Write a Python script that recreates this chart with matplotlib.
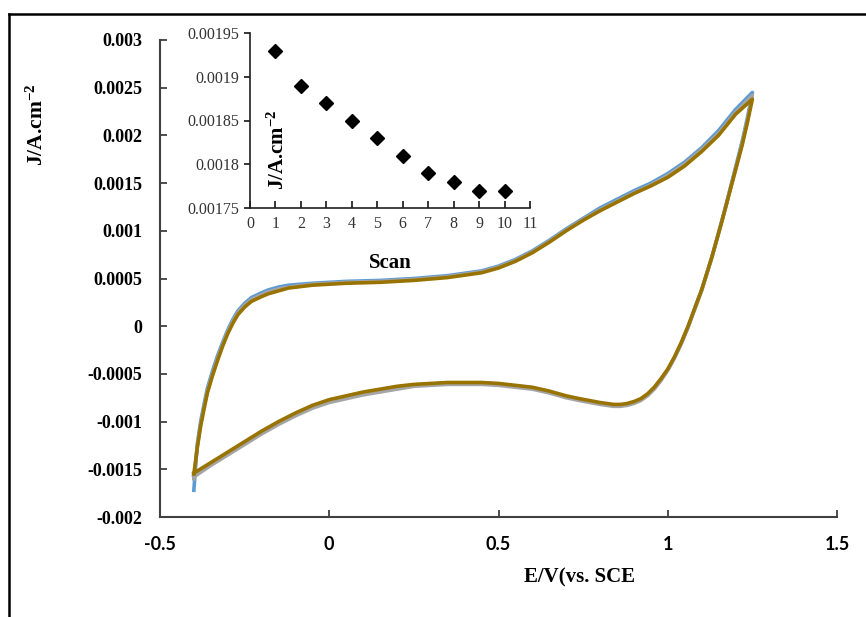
import matplotlib
matplotlib.use("Agg")
import matplotlib.pyplot as plt
from matplotlib.lines import Line2D

plt.rcParams['mathtext.fontset'] = 'custom'
plt.rcParams['mathtext.rm'] = 'Liberation Serif:bold'
plt.rcParams['mathtext.it'] = 'Liberation Serif:bold'
plt.rcParams['mathtext.bf'] = 'Liberation Serif:bold'
plt.rcParams['mathtext.default'] = 'rm'

# CV data (E in V vs SCE, J in A/cm2)
E_fwd = [-0.40, -0.39, -0.38, -0.37, -0.36, -0.345, -0.33, -0.315, -0.30, -0.285, -0.27, -0.25,
         -0.23, -0.20, -0.18, -0.15, -0.12, -0.05, 0.05, 0.15, 0.25, 0.35, 0.45, 0.50, 0.55,
         0.60, 0.65, 0.70, 0.75, 0.80, 0.85, 0.90, 0.95, 1.00, 1.05, 1.10, 1.15, 1.20, 1.25]
E_rev = [1.25, 1.235, 1.22, 1.205, 1.19, 1.175, 1.16, 1.145, 1.13, 1.115, 1.10,
         1.08, 1.06, 1.04, 1.02, 1.00, 0.98, 0.96, 0.94, 0.92, 0.90, 0.88, 0.86, 0.84, 0.82, 0.80,
         0.77, 0.74, 0.70,
         0.65, 0.60, 0.55, 0.50, 0.45, 0.40, 0.35, 0.30, 0.25, 0.20, 0.15, 0.10, 0.05, 0.0,
         -0.05, -0.10, -0.15, -0.20, -0.25, -0.30, -0.35, -0.40]

# scan 1 (blue)
J_fwd_1 = [-0.00172, -0.00124, -0.00100, -0.00082, -0.00065, -0.00047, -0.00031, -0.00017,
           -0.00004, 0.00007, 0.00016, 0.00024, 0.00030, 0.00035, 0.00038, 0.00041, 0.00043,
           0.00045, 0.00047, 0.00048, 0.00050, 0.00053, 0.00058, 0.00063, 0.00070, 0.00079,
           0.00090, 0.00102, 0.00113, 0.00124, 0.00133, 0.00142, 0.00150, 0.00160, 0.00172,
           0.00187, 0.00205, 0.00227, 0.00245]
J_rev_1 = [0.00245, 0.00218, 0.00194, 0.00173, 0.00152, 0.00131, 0.00111, 0.00091, 0.00072, 0.00055, 0.00038,
           0.00019, -0.00001, -0.00018, -0.00033, -0.00046, -0.00056, -0.00065, -0.00072, -0.00077,
           -0.00080, -0.00082, -0.00083, -0.00083, -0.00082, -0.00081,
           -0.00079, -0.00077, -0.00074,
           -0.00069, -0.00065, -0.00063, -0.00061, -0.00060, -0.00060, -0.00060, -0.00061, -0.00062,
           -0.00064, -0.00067, -0.00070, -0.00074, -0.00078, -0.00084, -0.00092, -0.00101, -0.00111,
           -0.00122, -0.00133, -0.00144, -0.00156]

# scan 5 (grey)
J_fwd_5 = [-0.00160, -0.00126, -0.00103, -0.00085, -0.00068, -0.00050, -0.00034, -0.00019,
           -0.00006, 0.00005, 0.00014, 0.00022, 0.00028, 0.00033, 0.00036, 0.00039, 0.00041,
           0.00044, 0.00046, 0.00047, 0.00049, 0.00052, 0.00057, 0.00062, 0.00069, 0.00078,
           0.00089, 0.00101, 0.00112, 0.00122, 0.00131, 0.00140, 0.00148, 0.00158, 0.00170,
           0.00185, 0.00202, 0.00224, 0.00242]
J_rev_5 = [0.00242, 0.00215, 0.00192, 0.00171, 0.00151, 0.00130, 0.00110, 0.00091, 0.00072, 0.00054, 0.00037,
           0.00018, -0.00001, -0.00018, -0.00033, -0.00046, -0.00057, -0.00066, -0.00073, -0.00078,
           -0.00081, -0.00083, -0.00084, -0.00084, -0.00083, -0.00082,
           -0.00080, -0.00078, -0.00075,
           -0.00070, -0.00066, -0.00064, -0.00062, -0.00061, -0.00061, -0.00061, -0.00062, -0.00063,
           -0.00066, -0.00069, -0.00072, -0.00076, -0.00080, -0.00086, -0.00094, -0.00103, -0.00113,
           -0.00124, -0.00135, -0.00146, -0.00158]

# scan 10 (dark gold, drawn on top)
J_fwd_10 = [-0.00155, -0.00128, -0.00105, -0.00087, -0.00070, -0.00052, -0.00036, -0.00021,
            -0.00008, 0.00003, 0.00012, 0.00020, 0.00026, 0.00031, 0.00034, 0.00037, 0.00040,
            0.00043, 0.00045, 0.00046, 0.00048, 0.00051, 0.00056, 0.00061, 0.00068, 0.00077,
            0.00088, 0.00100, 0.00111, 0.00121, 0.00130, 0.00139, 0.00147, 0.00156, 0.00168,
            0.00183, 0.00200, 0.00222, 0.00238]
J_rev_10 = [0.00238, 0.00213, 0.00190, 0.00170, 0.00150, 0.00130, 0.00110, 0.00091, 0.00072, 0.00055, 0.00038,
            0.00019, 0.00000, -0.00017, -0.00032, -0.00045, -0.00055, -0.00064, -0.00071, -0.00076,
            -0.00079, -0.00081, -0.00082, -0.00082, -0.00081, -0.00080,
            -0.00078, -0.00076, -0.00073,
            -0.00068, -0.00064, -0.00062, -0.00060, -0.00059, -0.00059, -0.00059, -0.00060, -0.00061,
            -0.00063, -0.00066, -0.00069, -0.00073, -0.00077, -0.00083, -0.00091, -0.00100, -0.00110,
            -0.00121, -0.00132, -0.00143, -0.00154]

# inset: current vs scan number
scans = [1, 2, 3, 4, 5, 6, 7, 8, 9, 10]
J_scan = [0.00193, 0.00189, 0.00187, 0.00185, 0.00183, 0.00181, 0.00179, 0.00178, 0.00177, 0.00177]

fig = plt.figure(figsize=(8.66, 6.17), dpi=100)

# outer frame (only top and left edges visible)
fig.add_artist(Line2D([8.5 / 866, 1.0], [1 - 13.5 / 617, 1 - 13.5 / 617], color='black', lw=1.8))
fig.add_artist(Line2D([8.5 / 866, 8.5 / 866], [0.0, 1 - 13.5 / 617], color='black', lw=1.8))

ax = fig.add_axes([160 / 866, 100 / 617, 677 / 866, 477 / 617])
curves = [(J_fwd_1, J_rev_1, '#5B9BD5'), (J_fwd_5, J_rev_5, '#A5A5A5'), (J_fwd_10, J_rev_10, '#997300')]
for jf, jr, c in curves:
    ax.plot(E_fwd + E_rev, jf + jr, color=c, lw=2.6, solid_joinstyle='round')

ax.set_xlim(-0.5, 1.5)
ax.set_ylim(-0.002, 0.003)
ax.set_xticks([-0.5, 0, 0.5, 1, 1.5])
ax.set_xticklabels(['-0.5', '0', '0.5', '1', '1.5'])
ax.set_yticks([-0.002, -0.0015, -0.001, -0.0005, 0, 0.0005, 0.001, 0.0015, 0.002, 0.0025, 0.003])
ax.set_yticklabels(['-0.002', '-0.0015', '-0.001', '-0.0005', '0', '0.0005', '0.001',
                    '0.0015', '0.002', '0.0025', '0.003'])
for s in ['top', 'right']:
    ax.spines[s].set_visible(False)
for s in ['left', 'bottom']:
    ax.spines[s].set_color('#404040')
    ax.spines[s].set_linewidth(1.5)
ax.tick_params(direction='in', length=5, width=1.3, color='#404040')
ax.tick_params(axis='x', pad=14)
ax.tick_params(axis='y', pad=13)
for t in ax.get_xticklabels():
    t.set_fontfamily('Lato')
    t.set_fontweight('bold')
    t.set_fontsize(13)
for t in ax.get_yticklabels():
    t.set_fontfamily('Liberation Serif')
    t.set_fontweight('bold')
    t.set_fontsize(13)

ax.text(0.62, -0.105, 'E/V(vs. SCE', transform=ax.transAxes, ha='center', va='top',
        family='Liberation Serif', fontweight='bold', fontsize=15)
ax.text(-0.182, 0.822, r'J/A.cm$^{-2}$', transform=ax.transAxes, ha='center', va='center',
        rotation=90, family='Liberation Serif', fontweight='bold', fontsize=15.5)

# inset
ins = fig.add_axes([250 / 866, 409 / 617, 280 / 866, 175 / 617])
ins.plot(scans, J_scan, linestyle='none', marker='D', ms=7, color='black')
ins.set_xlim(0, 11)
ins.set_ylim(0.00175, 0.00195)
ins.set_xticks(range(0, 12))
ins.set_yticks([0.00175, 0.0018, 0.00185, 0.0019, 0.00195])
ins.set_yticklabels(['0.00175', '0.0018', '0.00185', '0.0019', '0.00195'])
ins.patch.set_alpha(0)
for s in ['top', 'right']:
    ins.spines[s].set_visible(False)
for s in ['left', 'bottom']:
    ins.spines[s].set_color('#202020')
    ins.spines[s].set_linewidth(1.2)
ins.tick_params(axis='x', direction='in', length=5, width=1.1, pad=6)
ins.tick_params(axis='y', direction='out', length=4, width=1.1, pad=4)
for t in ins.get_xticklabels() + ins.get_yticklabels():
    t.set_fontfamily('Liberation Serif')
    t.set_fontsize(11.5)
    t.set_color('#333333')
ins.text(0.5, -0.26, 'Scan', transform=ins.transAxes, ha='center', va='top',
         family='Liberation Serif', fontweight='bold', fontsize=15)
ins.text(0.10, 0.33, r'J/A.cm$^{-2}$', transform=ins.transAxes, ha='center', va='center',
         rotation=90, family='Liberation Serif', fontweight='bold', fontsize=15)

fig.savefig('out.png', dpi=100)
